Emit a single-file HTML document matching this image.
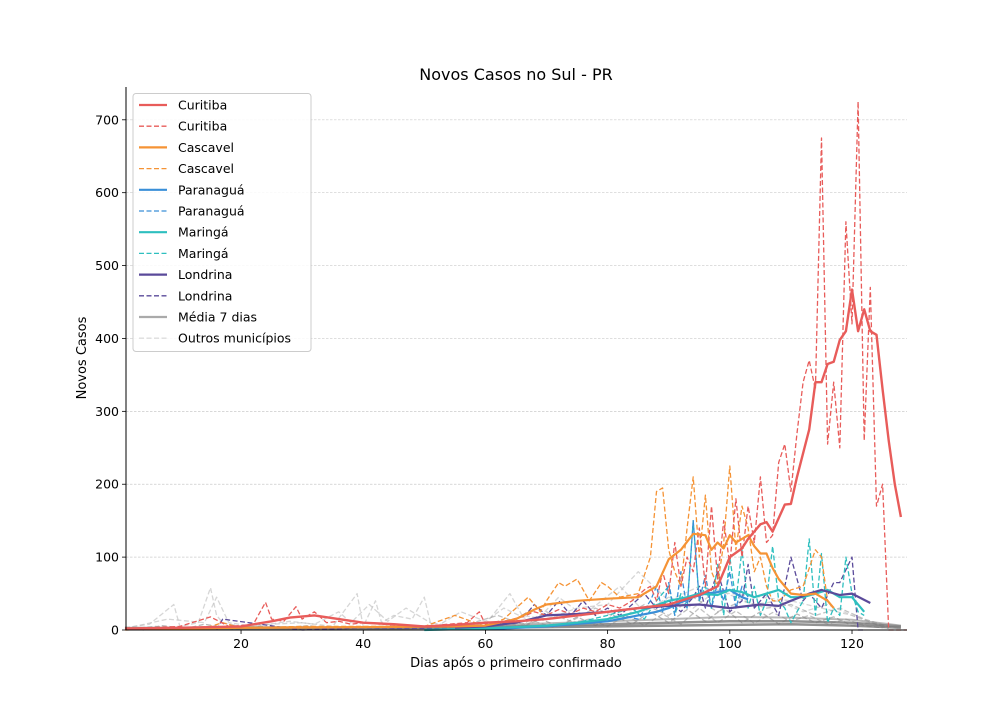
<!DOCTYPE html>
<html><head><meta charset="utf-8"><style>
html,body{margin:0;padding:0;background:#fff;}
svg{display:block;font-family:"DejaVu Sans","Liberation Sans",sans-serif;}
</style></head><body>
<svg id="chart" width="1008" height="720" viewBox="0 0 1008 720">
<text x="516" y="80" text-anchor="middle" font-size="16">Novos Casos no Sul - PR</text>
<g id="grid"></g>
<g id="plot"></g>
<g id="axes"></g>
<text x="516" y="667" text-anchor="middle" font-size="13">Dias após o primeiro confirmado</text>
<text x="86" y="358" text-anchor="middle" font-size="13" transform="rotate(-90 86 358)">Novos Casos</text>
<g id="legend"></g>
</svg>
<script>
// ---- data ----
const xTicks = [20, 40, 60, 80, 100, 120];
const yTicks = [0, 100, 200, 300, 400, 500, 600, 700];

const curitibaDailyX = [1,5,10,15,18,20,22,24,25,27,29,30,32,34,36,38,40,43,46,50,54,57,59,60,63,66,68,70,72,74,76,78,80,82,84,86,87,88,89,90,91,92,93,94,95,96,97,98,99,100,101,102,103,104,105,106,107,108,109,110,111,112,113,114,115,116,117,118,119,120,121,122,123,124,125,126,129];
const curitibaDailyY = [2,3,5,18,5,6,8,38,15,12,32,15,25,10,12,8,10,8,6,5,8,10,25,8,12,18,25,20,28,22,30,25,35,30,40,55,60,40,80,50,120,60,100,80,140,60,170,70,150,90,180,100,170,120,210,120,130,230,255,190,270,340,370,330,675,255,340,250,560,420,725,260,470,170,200,0,0];
const curitibaMeanX = [1,10,20,25,28,32,36,40,45,50,55,60,65,70,75,80,85,90,95,98,100,102,103,105,106,107,109,110,111,113,114,115,116,117,118,119,120,121,122,123,124,125,126,127,128];
const curitibaMeanY = [2,3,5,12,17,20,15,10,8,5,7,10,12,15,20,25,30,35,48,60,100,112,125,145,148,135,172,173,210,275,340,340,365,368,398,410,467,410,440,410,405,330,260,200,155];

const cascavelDailyX = [1,10,15,17,20,30,40,50,55,60,63,65,67,69,70,72,73,75,77,79,80,82,85,87,88,89,90,91,92,93,94,95,96,97,98,99,100,101,102,103,104,105,106,107,108,110,112,114,115,116,117];
const cascavelDailyY = [0,2,5,10,3,5,5,5,20,5,15,30,45,25,40,65,60,70,40,65,60,45,50,100,190,195,110,80,60,140,210,100,185,80,60,120,225,110,170,140,80,100,60,40,40,55,60,110,100,40,30];
const cascavelMeanX = [1,20,40,55,60,65,68,70,75,80,85,88,90,92,94,96,97,98,99,100,101,102,103,104,105,106,107,108,110,112,114,116,117];
const cascavelMeanY = [1,3,4,5,6,15,28,35,40,43,45,60,97,110,132,130,110,120,112,130,120,125,130,115,105,105,85,70,50,48,50,40,30];

const paranaguaDailyX = [60,70,78,82,85,87,88,89,90,91,92,93,94,95,96,97,98,99,100,101,102,103];
const paranaguaDailyY = [2,5,10,20,15,40,60,25,65,20,80,30,150,40,75,30,65,40,80,30,60,45];
const paranaguaMeanX = [60,70,80,85,88,90,92,94,96,98,100,102,103];
const paranaguaMeanY = [1,5,12,20,25,30,38,45,50,52,55,45,42];

const maringaDailyX = [50,60,70,75,80,84,86,88,90,91,92,93,94,95,96,97,98,99,100,101,102,103,104,105,106,107,108,109,110,111,112,113,114,115,116,117,118,119,120,121,122];
const maringaDailyY = [0,3,5,10,20,30,15,40,60,20,50,30,150,40,60,30,90,20,100,40,110,30,60,20,40,115,40,30,10,25,40,125,20,105,10,30,20,100,50,25,20];
const maringaMeanX = [50,60,70,75,80,85,90,93,95,98,100,102,104,106,108,110,112,114,116,118,120,122];
const maringaMeanY = [0,2,6,10,15,25,40,45,50,48,55,52,45,50,55,45,45,50,55,45,45,25];

const londrinaDailyX = [16,17,30,40,55,60,64,67,68,70,72,74,76,78,80,82,84,86,88,90,92,94,95,96,98,100,102,103,104,106,108,110,112,113,115,117,118,120,121,122];
const londrinaDailyY = [0,15,0,3,2,5,10,25,35,20,40,20,40,20,30,20,35,50,30,40,25,45,60,30,80,25,40,90,30,50,20,100,40,50,30,65,65,100,0,0];
const londrinaMeanX = [55,60,65,70,75,80,85,90,95,100,105,108,110,113,115,118,120,123];
const londrinaMeanY = [3,5,10,20,22,25,30,33,35,30,35,33,40,50,55,48,50,37];

const outros1X = [1,5,9,10,13,15,16,17,20,25,30,35,39,40,42,43,45,48,50,51,55,60,64,66,70,75,80,85,90,95,100,110,120,125];
const outros1Y = [3,8,35,5,10,58,20,10,5,8,10,5,50,5,40,10,20,15,45,10,5,8,50,20,15,30,35,80,40,60,50,40,20,5];
const outros2X = [1,8,14,16,18,22,28,32,36,38,41,44,47,52,56,60,63,68,72,76,82,86,90,94,98,104,108,112,116,120,124,128];
const outros2Y = [2,15,10,45,10,5,12,8,25,10,35,12,30,5,25,12,30,10,45,20,60,25,45,30,55,35,40,25,35,20,8,2];
const outros3X = [50,58,62,66,70,74,78,82,86,90,94,98,102,106,110,114,118,122,126];
const outros3Y = [3,10,20,8,25,12,30,15,35,20,45,25,40,30,35,20,30,15,5];
const outros4X = [1,4,7,11,14,19,23,27,31,35,40,45,50,55,60,63,66,69,72,75,78,81,84,87,90,93,96,99,102,105,108,111,114,117,120,123,126];
const outros4Y = [4,0,6,2,8,1,5,2,6,1,4,2,5,1,6,12,4,15,5,18,6,20,8,25,10,28,12,30,10,25,8,22,10,18,6,10,2];
const outros5X = [1,6,12,18,24,30,36,42,48,54,60,62,65,68,71,74,77,80,83,86,89,92,95,98,101,104,107,110,113,116,119,122,125];
const outros5Y = [1,5,1,4,2,5,1,4,2,5,2,8,3,12,4,10,15,5,20,6,22,8,30,10,26,9,24,12,20,8,15,6,3];
const grayMeanX = [1,20,40,60,70,80,90,100,110,120,128];
const grayMeanY = [2,3,3,4,6,8,10,12,12,10,5];
const grayMean2Y = [1,2,2,3,4,5,6,7,8,6,3];
const grayMean3Y = [3,4,4,6,9,12,15,18,17,14,6];

// ---- axes ----
const X0 = 126, X1 = 907, Y0 = 630, Y1 = 87;
const xMin = 1.17, xMax = 129, yMin = 0, yMax = 745;
const sx = v => X0 + (v - xMin) / (xMax - xMin) * (X1 - X0);
const sy = v => Y0 - (v - yMin) / (yMax - yMin) * (Y0 - Y1);
const NS = 'http://www.w3.org/2000/svg';
function mk(tag, attrs, parent) {
  const e = document.createElementNS(NS, tag);
  for (const k in attrs) e.setAttribute(k, attrs[k]);
  parent.appendChild(e);
  return e;
}
const grid = document.getElementById('grid');
const plot = document.getElementById('plot');
const axes = document.getElementById('axes');
const legend = document.getElementById('legend');

yTicks.forEach(t => {
  if (t > 0) {
    const g = mk('line', {x1: X0, x2: X1, y1: sy(t), y2: sy(t), stroke: '#ccc', 'stroke-width': 0.7, 'stroke-dasharray': '2.5,1.5'}, grid);
    
    
  }
  const tk = mk('line', {x1: X0 - 4, x2: X0, y1: sy(t), y2: sy(t), stroke: '#000', 'stroke-width': 0.8}, axes);
  
  
  const lb = mk('text', {x: X0 - 7, y: sy(t) + 4.5, 'text-anchor': 'end', 'font-size': 12.5}, axes);
  lb.textContent = t;
  
  
});
xTicks.forEach(t => {
  const tk = mk('line', {x1: sx(t), x2: sx(t), y1: Y0, y2: Y0 + 4, stroke: '#000', 'stroke-width': 0.8}, axes);
  
  
  const lb = mk('text', {x: sx(t), y: Y0 + 18, 'text-anchor': 'middle', 'font-size': 12.5}, axes);
  lb.textContent = t;
  
  
});
const la = mk('line', {x1: X0, x2: X0, y1: Y1, y2: Y0, stroke: '#000', 'stroke-width': 1}, axes);


const ba = mk('line', {x1: X0, x2: X1, y1: Y0, y2: Y0, stroke: '#000', 'stroke-width': 1}, axes);



function series(xs, ys, color, width, dash, name, opacity) {
  const d = xs.map((x, i) => (i ? 'L' : 'M') + sx(x).toFixed(1) + ',' + sy(ys[i]).toFixed(1)).join('');
  const p = mk('path', {d: d, fill: 'none', stroke: color, 'stroke-width': width, 'stroke-linejoin': 'round', opacity: opacity || 1}, plot);
  if (dash) p.setAttribute('stroke-dasharray', dash);
  
  
}
const DASH = '5,2.5';
series(outros1X, outros1Y, '#bbb', 1.3, DASH, 'outros-line-1', 0.6);
series(outros2X, outros2Y, '#bbb', 1.3, DASH, 'outros-line-2', 0.6);
series(outros3X, outros3Y, '#999', 1.3, DASH, 'outros-line-3', 0.6);
series(outros4X, outros4Y, '#999', 1.3, DASH, 'outros-line-4', 0.7);
series(outros5X, outros5Y, '#aaa', 1.3, DASH, 'outros-line-5', 0.7);
series(grayMeanX, grayMeanY, '#777', 2.5, null, 'media-outros-1', 0.8);
series(grayMeanX, grayMean2Y, '#777', 2.5, null, 'media-outros-2', 0.8);
series(grayMeanX, grayMean3Y, '#888', 2, null, 'media-outros-3', 0.6);
series(londrinaDailyX, londrinaDailyY, '#5a4a9a', 1.3, DASH, 'londrina-daily');
series(maringaDailyX, maringaDailyY, '#2ebfbf', 1.3, DASH, 'maringa-daily');
series(paranaguaDailyX, paranaguaDailyY, '#3a8fd8', 1.3, DASH, 'paranagua-daily');
series(cascavelDailyX, cascavelDailyY, '#f59335', 1.3, DASH, 'cascavel-daily');
series(curitibaDailyX, curitibaDailyY, '#e85c5a', 1.3, DASH, 'curitiba-daily');
series(paranaguaMeanX, paranaguaMeanY, '#3a8fd8', 2.2, null, 'paranagua-mean');
series(maringaMeanX, maringaMeanY, '#2ebfbf', 2.2, null, 'maringa-mean');
series(londrinaMeanX, londrinaMeanY, '#5a4a9a', 2.2, null, 'londrina-mean');
series(cascavelMeanX, cascavelMeanY, '#f59335', 2.2, null, 'cascavel-mean');
series(curitibaMeanX, curitibaMeanY, '#e85c5a', 2.4, null, 'curitiba-mean');

// legend
const entries = [
  ['Curitiba', '#e85c5a', null], ['Curitiba', '#e85c5a', DASH],
  ['Cascavel', '#f59335', null], ['Cascavel', '#f59335', DASH],
  ['Paranaguá', '#3a8fd8', null], ['Paranaguá', '#3a8fd8', DASH],
  ['Maringá', '#2ebfbf', null], ['Maringá', '#2ebfbf', DASH],
  ['Londrina', '#5a4a9a', null], ['Londrina', '#5a4a9a', DASH],
  ['Média 7 dias', '#aaa', null], ['Outros municípios', '#ddd', DASH]
];
const box = mk('rect', {x: 133, y: 93.5, width: 178, height: 258, rx: 3, fill: '#fff', 'fill-opacity': 0.85, stroke: '#ccc', 'stroke-width': 1}, legend);


entries.forEach((e, i) => {
  const y = 105 + i * 21.2;
  const ln = mk('line', {x1: 139, x2: 167, y1: y, y2: y, stroke: e[1], 'stroke-width': e[2] ? 1.3 : 2.2}, legend);
  if (e[2]) ln.setAttribute('stroke-dasharray', e[2]);
  
  
  const t = mk('text', {x: 178, y: y + 4.5, 'font-size': 12.5}, legend);
  t.textContent = e[0];
  
  
});
</script>
</body></html>
